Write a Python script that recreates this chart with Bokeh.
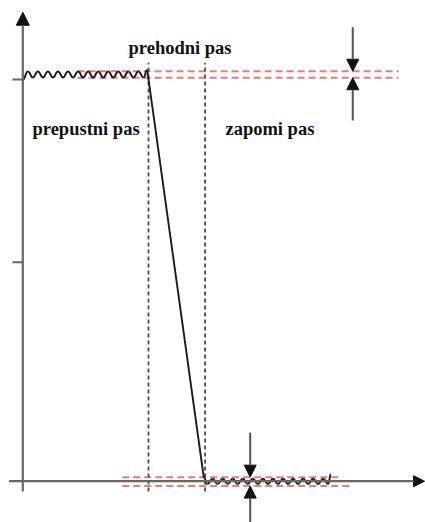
from bokeh.plotting import figure
from bokeh.models import Arrow, NormalHead, Range1d
from bokeh.core.properties import value
from bokeh.embed import file_html
from bokeh.resources import INLINE

# ---- data (normalised frequency, magnitude) ----
f_pass_edge = 1.0
f_stop_edge = 1.45
pass_tol = [0.992, 1.008]      # passband tolerance band
stop_tol = [-0.012, 0.010]     # stopband tolerance band
y_ticks = [0.5385, 0.9877]

pass_x = [0.00, 0.04, 0.08, 0.12, 0.16, 0.20, 0.24, 0.28, 0.32, 0.36, 0.40, 0.44, 0.48,
          0.52, 0.56, 0.60, 0.64, 0.68, 0.72, 0.76, 0.80, 0.84, 0.88, 0.92, 0.96, 0.99]
pass_y = [0.987, 1.0075, 0.9925, 1.0075, 0.9925, 1.0075, 0.9925, 1.0075, 0.9925, 1.0075,
          0.9925, 1.0075, 0.9925, 1.0075, 0.9925, 1.0075, 0.9925, 1.0075, 0.9925, 1.0075,
          0.9925, 1.0075, 0.9925, 1.0075, 0.9925, 1.011]

trans_x = [0.99, 1.44]
trans_y = [1.011, 0.009]

stop_x = [1.44, 1.47, 1.51, 1.55, 1.59, 1.63, 1.67, 1.71, 1.75, 1.79, 1.83, 1.87, 1.91, 1.95,
          1.99, 2.03, 2.07, 2.11, 2.15, 2.19, 2.23, 2.27, 2.31, 2.35, 2.39, 2.43, 2.45]
stop_y = [0.009, -0.007, 0.006, -0.007, 0.006, -0.007, 0.006, -0.007, 0.006, -0.007, 0.006,
          -0.007, 0.006, -0.007, 0.006, -0.007, 0.006, -0.007, 0.006, -0.007, 0.006, -0.007,
          0.006, -0.007, 0.006, -0.007, 0.017]

labels = ["prehodni pas", "prepustni pas", "zapomi pas"]

# ---- layout ----
X0, X1 = -0.1774, 3.2037
Y0, Y1 = -0.1015, 1.1819
label_pos = {"prehodni pas": (0.841, 1.064), "prepustni pas": (0.077, 0.867), "zapomi pas": (1.612, 0.867)}

p = figure(width=425, height=522, x_range=Range1d(X0, X1), y_range=Range1d(Y0, Y1),
           x_axis_type=None, y_axis_type=None, toolbar_location=None,
           output_backend="svg", min_border=0)
p.outline_line_color = None
p.background_fill_color = "white"
p.border_fill_color = "white"

AX = "#666666"
# axes with arrow heads
p.add_layout(Arrow(end=NormalHead(size=13, fill_color="#111111", line_color="#111111"),
                   x_start=0, y_start=-0.025, x_end=0, y_end=1.153, line_color=AX, line_width=2.2))
p.add_layout(Arrow(end=NormalHead(size=11, fill_color="#111111", line_color="#111111"),
                   x_start=-0.11, y_start=0, x_end=3.196, y_end=0, line_color=AX, line_width=2.2))
p.segment(x0=[-0.082] * len(y_ticks), y0=y_ticks, x1=[0] * len(y_ticks), y1=y_ticks,
          line_color=AX, line_width=2)

# tolerance bands (red dashed)
RED = "#ee7a7a"
for t in pass_tol:
    p.line([0.436, 2.99], [t, t], line_color=RED, line_width=2, line_dash="7 4")
p.line([0.791, 2.543], [stop_tol[1]] * 2, line_color=RED, line_width=2, line_dash="7 4")
p.line([0.791, 2.599], [stop_tol[0]] * 2, line_color=RED, line_width=2, line_dash="7 4")

# band edges (grey dashed)
for fe in [f_pass_edge, f_stop_edge]:
    p.line([fe, fe], [-0.025, 1.029], line_color="#4d4d4d", line_width=1.8, line_dash="4 3")


def ripple(xs, ys):
    x0 = xs[:-1]; x1 = xs[1:]; y0 = ys[:-1]; y1 = ys[1:]
    cx = [(a + b) / 2 for a, b in zip(x0, x1)]
    p.bezier(x0=x0, y0=y0, x1=x1, y1=y1, cx0=cx, cy0=y0, cx1=cx, cy1=y1,
             line_color="#1a1a1a", line_width=1.9)


ripple(pass_x, pass_y)
ripple(stop_x, stop_y)
p.line(trans_x, trans_y, line_color="#1a1a1a", line_width=1.9)

# tolerance arrows
HEAD = dict(size=12, fill_color="#111111", line_color="#111111")
for (xs, ys, xe, ye) in [(2.625, 1.116, 2.625, pass_tol[1]), (2.625, 0.887, 2.625, pass_tol[0]),
                         (1.809, 0.120, 1.809, stop_tol[1]), (1.809, -0.11, 1.809, stop_tol[0])]:
    p.add_layout(Arrow(end=NormalHead(**HEAD), x_start=xs, y_start=ys, x_end=xe, y_end=ye,
                       line_color="#555555", line_width=2))

p.text(x=[label_pos[l][0] for l in labels], y=[label_pos[l][1] for l in labels], text=labels,
       text_font=value("Liberation Sans Narrow"), text_font_style="bold",
       text_font_size="18.5px", text_color="#111111",
       text_align="left", text_baseline="alphabetic")

open("out.html", "w").write(file_html(p, INLINE))
